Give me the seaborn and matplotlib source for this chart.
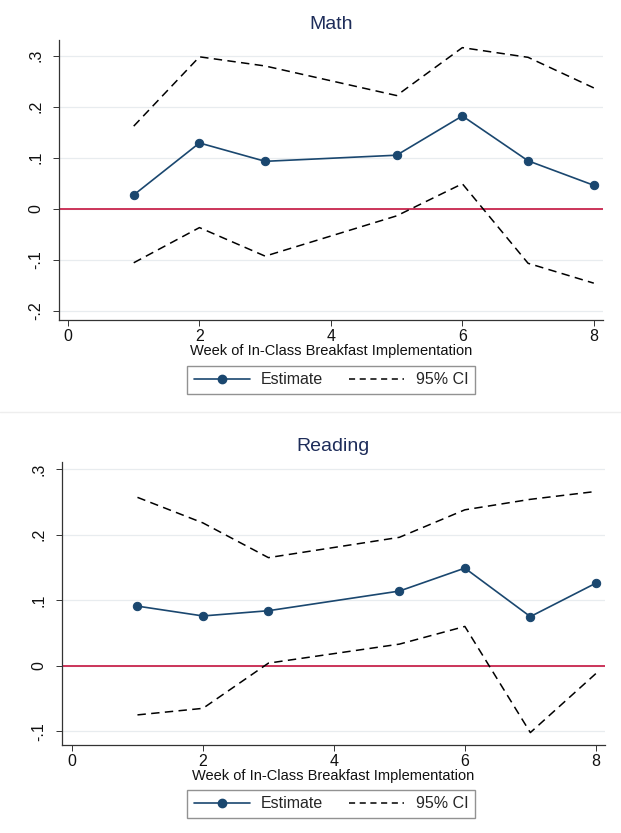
import numpy as np
import pandas as pd
import matplotlib
matplotlib.use("Agg")
import matplotlib.pyplot as plt
from matplotlib.lines import Line2D
import seaborn as sns

weeks = [1, 2, 3, 5, 6, 7, 8]

math_est = [0.027, 0.129, 0.093, 0.105, 0.182, 0.094, 0.046]
math_hi = [0.162, 0.298, 0.280, 0.222, 0.316, 0.297, 0.237]
math_lo = [-0.106, -0.037, -0.093, -0.014, 0.049, -0.107, -0.146]

read_est = [0.091, 0.076, 0.084, 0.114, 0.149, 0.075, 0.126]
read_hi = [0.257, 0.218, 0.165, 0.196, 0.238, 0.254, 0.266]
read_lo = [-0.075, -0.065, 0.004, 0.033, 0.060, -0.102, -0.012]

math_yticks = [-0.2, -0.1, 0.0, 0.1, 0.2, 0.3]
math_ylabels = ["-.2", "-.1", "0", ".1", ".2", ".3"]
read_yticks = [-0.1, 0.0, 0.1, 0.2, 0.3]
read_ylabels = ["-.1", "0", ".1", ".2", ".3"]
xticks = [0, 2, 4, 6, 8]

sns.set_theme(style="white")
plt.rcParams['font.family'] = ['Liberation Sans', 'DejaVu Sans']

NAVY = "#1a476f"
RED = "#c8264e"
TITLE_C = "#1e2d5a"
AX_C = "#333333"

fig = plt.figure(figsize=(6.21, 8.33), dpi=100)
fig.patch.set_facecolor("white")


def panel(rect, title, est, hi, lo, yt, yl, ylim, xlim, leg_y):
    ax = fig.add_axes(rect)
    df = pd.DataFrame({"week": weeks, "est": est, "hi": hi, "lo": lo})
    for yv in yt:
        ax.axhline(yv, color="#e8ecef", lw=0.9, zorder=0)
    ax.axhline(0, color=RED, lw=1.3, zorder=1)
    sns.lineplot(data=df, x="week", y="hi", ax=ax, color="black", lw=1.1,
                 linestyle=(0, (5.5, 3.5)), zorder=2)
    sns.lineplot(data=df, x="week", y="lo", ax=ax, color="black", lw=1.1,
                 linestyle=(0, (5.5, 3.5)), zorder=2)
    sns.lineplot(data=df, x="week", y="est", ax=ax, color=NAVY, lw=1.2,
                 marker="o", markersize=6, markeredgecolor=NAVY,
                 markerfacecolor=NAVY, zorder=3)
    ax.set_xlim(*xlim)
    ax.set_ylim(*ylim)
    ax.set_xticks(xticks)
    ax.set_xticklabels([str(t) for t in xticks], fontsize=11.5)
    ax.set_yticks(yt)
    ax.set_yticklabels(yl, fontsize=11.5, rotation=90, va="center")
    ax.set_xlabel("Week of In-Class Breakfast Implementation", fontsize=10.5,
                  labelpad=0, color="#111111")
    ax.set_ylabel("")
    ax.set_title(title, fontsize=14, color=TITLE_C, pad=8)
    for s in ["top", "right"]:
        ax.spines[s].set_visible(False)
    for s in ["left", "bottom"]:
        ax.spines[s].set_color(AX_C)
        ax.spines[s].set_linewidth(0.9)
    ax.tick_params(axis="x", direction="out", length=4.5, width=0.7,
                   color=AX_C, labelcolor="#111111", pad=2, bottom=True)
    ax.tick_params(axis="y", direction="out", length=4.5, width=0.7,
                   color=AX_C, labelcolor="#111111", pad=7, left=True)
    handles = [
        Line2D([], [], color=NAVY, lw=1.2, marker="o", markersize=6),
        Line2D([], [], color="black", lw=1.1, linestyle=(0, (4, 3))),
    ]
    leg = fig.legend(handles, ["Estimate", "95% CI"], loc="center",
                     bbox_to_anchor=(0.533, leg_y), ncol=2, frameon=True,
                     fontsize=11.5, handlelength=3.5, columnspacing=1.6,
                     fancybox=False, borderpad=0.4, handletextpad=0.7)
    leg.get_frame().set_edgecolor("#777777")
    leg.get_frame().set_linewidth(1.0)
    return ax


panel([0.095, 0.616, 0.876, 0.336], "Math", math_est, math_hi, math_lo,
      math_yticks, math_ylabels, (-0.218, 0.331), (-0.137, 8.14), 1 - 380 / 833)
panel([0.0998, 0.1056, 0.8744, 0.3398], "Reading", read_est, read_hi, read_lo,
      read_yticks, read_ylabels, (-0.121, 0.311), (-0.153, 8.14), 1 - 804 / 833)

fig.add_artist(Line2D([0.0, 1.0], [1 - 412 / 833, 1 - 412 / 833],
                      transform=fig.transFigure, color="#eeeeee", lw=1.0))

fig.savefig("out.png", dpi=100, facecolor="white")
